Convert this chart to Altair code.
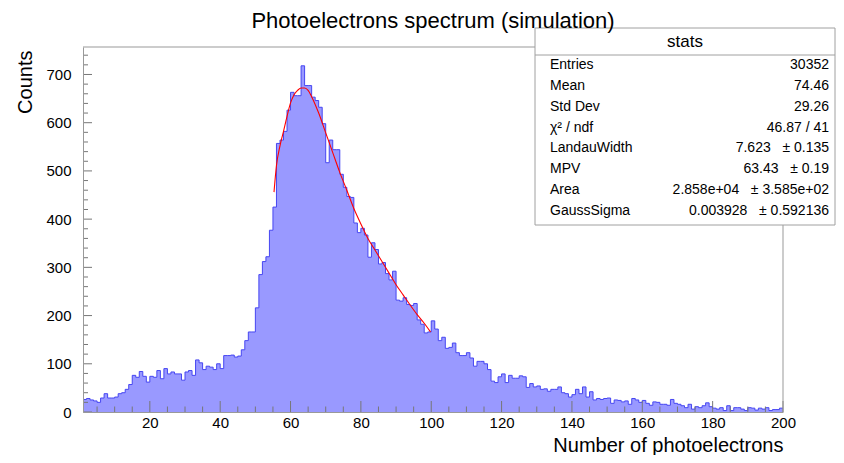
import altair as alt
import pandas as pd

FONT = "Liberation Sans"

# ---- histogram data (bins of width 1 from 1 to 200) ----
bin_low = list(range(1, 200))
counts = [
    26, 28, 25, 23, 20, 29, 38, 29, 29, 31,
    38, 40, 47, 57, 76, 72, 84, 74, 62, 74,
    72, 86, 69, 90, 79, 83, 79, 79, 66, 83,
    86, 76, 108, 102, 88, 95, 93, 88, 100, 90,
    117, 117, 118, 114, 116, 129, 148, 166, 166, 216,
    285, 312, 322, 377, 425, 557, 564, 582, 626, 663,
    656, 656, 718, 677, 677, 653, 646, 632, 598, 517,
    564, 544, 544, 493, 466, 447, 445, 392, 372, 381,
    367, 321, 351, 337, 307, 310, 287, 274, 292, 232,
    230, 237, 223, 221, 225, 191, 182, 164, 166, 189,
    172, 148, 155, 132, 134, 143, 123, 117, 117, 123,
    112, 95, 105, 105, 100, 88, 64, 61, 73, 79,
    61, 76, 70, 70, 75, 73, 51, 59, 52, 54,
    47, 48, 43, 47, 47, 52, 40, 38, 31, 36,
    47, 38, 52, 31, 42, 25, 28, 26, 28, 29,
    18, 25, 24, 21, 23, 16, 28, 25, 20, 24,
    18, 14, 21, 20, 16, 16, 14, 26, 18, 16,
    13, 9, 16, 6, 11, 9, 13, 19, 11, 8,
    6, 9, 3, 13, 3, 9, 9, 6, 3, 9,
    8, 4, 8, 6, 9, 3, 5, 5, 8,
]

# ---- fitted curve ----
fit_x = [55.3, 56, 57, 58, 59, 60, 61, 62, 63, 64, 65, 66, 68, 70, 72, 74, 76,
         78, 80, 82, 84, 86, 88, 90, 92, 94, 96, 98, 99.8]
fit_y = [456, 511, 552, 582, 613, 641, 658, 667, 672, 672, 667, 654, 620, 579,
         538, 497, 460, 422, 390, 360, 336, 312, 288, 264, 243, 222, 202, 184, 166]

# ---- axes ----
x_major = [20, 40, 60, 80, 100, 120, 140, 160, 180, 200]
x_minor = [v for v in range(5, 200, 5) if v % 20]
y_major = [0, 100, 200, 300, 400, 500, 600, 700]
y_minor = [v for v in range(20, 760, 20) if v % 100]

# ---- texts ----
title_text = "Photoelectrons spectrum (simulation)"
stat_names = ["Entries", "Mean", "Std Dev", "χ² / ndf", "LandauWidth", "MPV", "Area", "GaussSigma"]
stat_values = ["30352", "74.46", "29.26", "46.87 / 41", "7.623", "63.43", "2.858e+04", "0.003928"]
stat_errors = ["", "", "", "", "± 0.135", "± 0.19", "± 3.585e+02", "± 0.592136"]

W, H = 700, 365
xs = alt.Scale(domain=[1, 200], nice=False, zero=False)
ys = alt.Scale(domain=[0, 757], nice=False, zero=True)

hist_df = pd.DataFrame({"edge": bin_low + [200], "count": counts + [counts[-1]]})
fit_df = pd.DataFrame({"x": fit_x, "y": fit_y})
one = pd.DataFrame({"a": [0]})

x_axis = alt.Axis(values=x_major, labelFlush=False, labelOverlap=False, ticks=False, tickSize=0,
                  domainColor="#999999", labelFont=FONT, labelFontSize=15, labelColor="black",
                  labelPadding=3, grid=False, title="Number of photoelectrons", titleFont=FONT,
                  titleFontSize=20, titleFontWeight="normal", titleColor="black",
                  titleAlign="right", titleX=W, titleY=39, titleBaseline="alphabetic", zindex=1)
y_axis = alt.Axis(values=y_major, labelFlush=False, labelOverlap=False, ticks=False, tickSize=0,
                  domainColor="#999999", labelFont=FONT, labelFontSize=15, labelColor="black",
                  labelPadding=12, grid=False, title="Counts", titleFont=FONT, titleFontSize=20,
                  titleFontWeight="normal", titleColor="black", titleAngle=270, titleAlign="right",
                  titleBaseline="middle", titleX=-58, titleY=3, zindex=1)

hist = alt.Chart(hist_df).mark_area(
    interpolate="step-after", color="#9999ff", fillOpacity=1,
    line={"color": "#4646f2", "strokeWidth": 1}
).encode(
    x=alt.X("edge:Q", scale=xs, axis=x_axis),
    y=alt.Y("count:Q", scale=ys, axis=y_axis),
)

fit = alt.Chart(fit_df).mark_line(color="#ff0000", strokeWidth=1.1, interpolate="monotone").encode(
    x=alt.X("x:Q", scale=xs), y=alt.Y("y:Q", scale=ys)
)

tick_color = "#777777"
xt_major = alt.Chart(pd.DataFrame({"t": x_major})).mark_rule(color=tick_color).encode(
    x=alt.X("t:Q", scale=xs), y=alt.value(H), y2=alt.value(H - 11))
xt_minor = alt.Chart(pd.DataFrame({"t": x_minor})).mark_rule(color=tick_color).encode(
    x=alt.X("t:Q", scale=xs), y=alt.value(H), y2=alt.value(H - 5.5))
yt_major = alt.Chart(pd.DataFrame({"t": y_major})).mark_rule(color=tick_color).encode(
    y=alt.Y("t:Q", scale=ys), x=alt.value(0), x2=alt.value(9))
yt_minor = alt.Chart(pd.DataFrame({"t": y_minor})).mark_rule(color=tick_color).encode(
    y=alt.Y("t:Q", scale=ys), x=alt.value(0), x2=alt.value(5))

frame_top = alt.Chart(one).mark_rule(color="#999999").encode(
    x=alt.value(0), x2=alt.value(W), y=alt.value(0))
frame_right = alt.Chart(one).mark_rule(color="#999999").encode(
    x=alt.value(W), y=alt.value(0), y2=alt.value(H))

title = alt.Chart(one).mark_text(font=FONT, fontSize=22, color="black", align="center",
                                 baseline="alphabetic").encode(
    x=alt.value(W / 2), y=alt.value(-19), text=alt.value(title_text))

# stats box (pixel geometry relative to the plot area)
BX0, BX1, BY0, BY1 = 452, 752, -19, 178
box = alt.Chart(one).mark_rect(fill="white", stroke="#a0a0a0", strokeWidth=1).encode(
    x=alt.value(BX0), x2=alt.value(BX1), y=alt.value(BY0), y2=alt.value(BY1))
box_sep = alt.Chart(one).mark_rule(color="#a0a0a0").encode(
    x=alt.value(BX0), x2=alt.value(BX1), y=alt.value(8))
box_title = alt.Chart(one).mark_text(font=FONT, fontSize=17, color="black", align="center",
                                     baseline="middle").encode(
    x=alt.value((BX0 + BX1) / 2), y=alt.value(-5), text=alt.value("stats"))

NBSP = "\u00a0"
stat_layers = []
for i, (n, v, e) in enumerate(zip(stat_names, stat_values, stat_errors)):
    yy = 18 + i * 20.86
    stat_layers.append(alt.Chart(one).mark_text(font=FONT, fontSize=14, color="black", align="left",
                                                baseline="middle").encode(
        x=alt.value(BX0 + 15), y=alt.value(yy), text=alt.value(n)))
    txt = f"{v}{NBSP * 3}{e}" if e else v
    stat_layers.append(alt.Chart(one).mark_text(font=FONT, fontSize=14, color="black",
                                                align="right", baseline="middle").encode(
        x=alt.value(BX1 - 6), y=alt.value(yy), text=alt.value(txt)))

chart = alt.layer(
    hist, fit, xt_major, xt_minor, yt_major, yt_minor, frame_top, frame_right,
    box, box_sep, box_title, *stat_layers, title
).properties(
    width=W, height=H,
    autosize=alt.AutoSizeParams(type="none"),
    padding={"left": 75, "top": 39, "right": 53, "bottom": 43},
).configure_view(stroke=None)

chart.save("out.html", embed_options={"renderer": "svg", "actions": False})
